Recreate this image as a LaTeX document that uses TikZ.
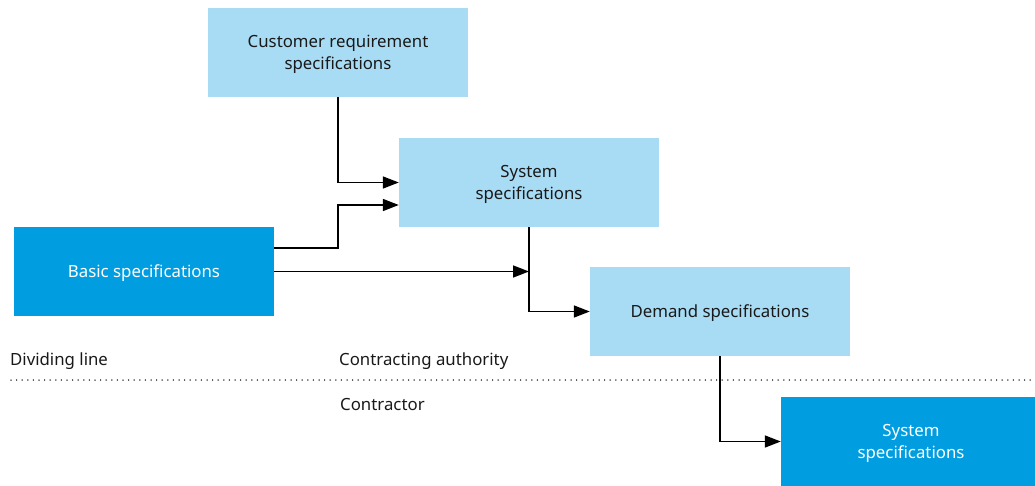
\documentclass[tikz,border=0pt]{standalone}
\usepackage{fontspec}
\setmainfont{Noto Sans}
\usetikzlibrary{arrows.meta}
\definecolor{lightspec}{RGB}{168,220,245}
\definecolor{darkspec}{RGB}{0,158,224}
\tikzset{
	specbox/.style={minimum width=260pt,minimum height=89pt,inner sep=0pt,align=center,text depth=-5.5pt,font=\fontsize{16.8}{22}\selectfont},
	lightbox/.style={specbox,fill=lightspec,text=black!90},
	darkbox/.style={specbox,fill=darkspec,text=white},
	arr/.style={line width=1.6pt,-{Triangle[length=16pt,width=12pt]}},
	sidelabel/.style={anchor=west,inner sep=0pt,font=\fontsize{16.8}{22}\selectfont,text=black!90}
}
\begin{document}
\begin{tikzpicture}[x=1pt,y=-1pt]
		\useasboundingbox (0,0) rectangle (1035,486);
		\clip (0,0) rectangle (1035,486);
			\node[lightbox] (cust) at (338,52.5) {Customer requirement\\specifications};
			\node[lightbox] (sys) at (529,182.5) {System\\specifications};
			\node[darkbox] (basic) at (144,271.5) {Basic specifications};
			\node[lightbox] (demand) at (720,311.5) {Demand specifications};
			\node[darkbox] (sysc) at (911,441.5) {System\\specifications};
		%	dividing line
			\node[sidelabel] (divide) at (10,361) {Dividing line};
			\node[sidelabel] (authority) at (339,361) {Contracting authority};
			\node[sidelabel] (contractor) at (340,405) {Contractor};
			\draw[line width=1.5pt,line cap=round,dash pattern=on 0pt off 5.6pt] (11,380) -- (1035,380);
		%	connectors
			\draw[arr] (cust.south) |- (sys.west);
			\draw[arr] ([yshift=23.5pt]basic.east) -- ++(64,0) |- ([yshift=-22.5pt]sys.west);
			\draw[arr] (basic.east) -- (basic.east -| sys.south);
			\draw[arr] (sys.south) |- (demand.west);
			\draw[arr] (demand.south) |- (sysc.west);
		\end{tikzpicture}
\end{document}
